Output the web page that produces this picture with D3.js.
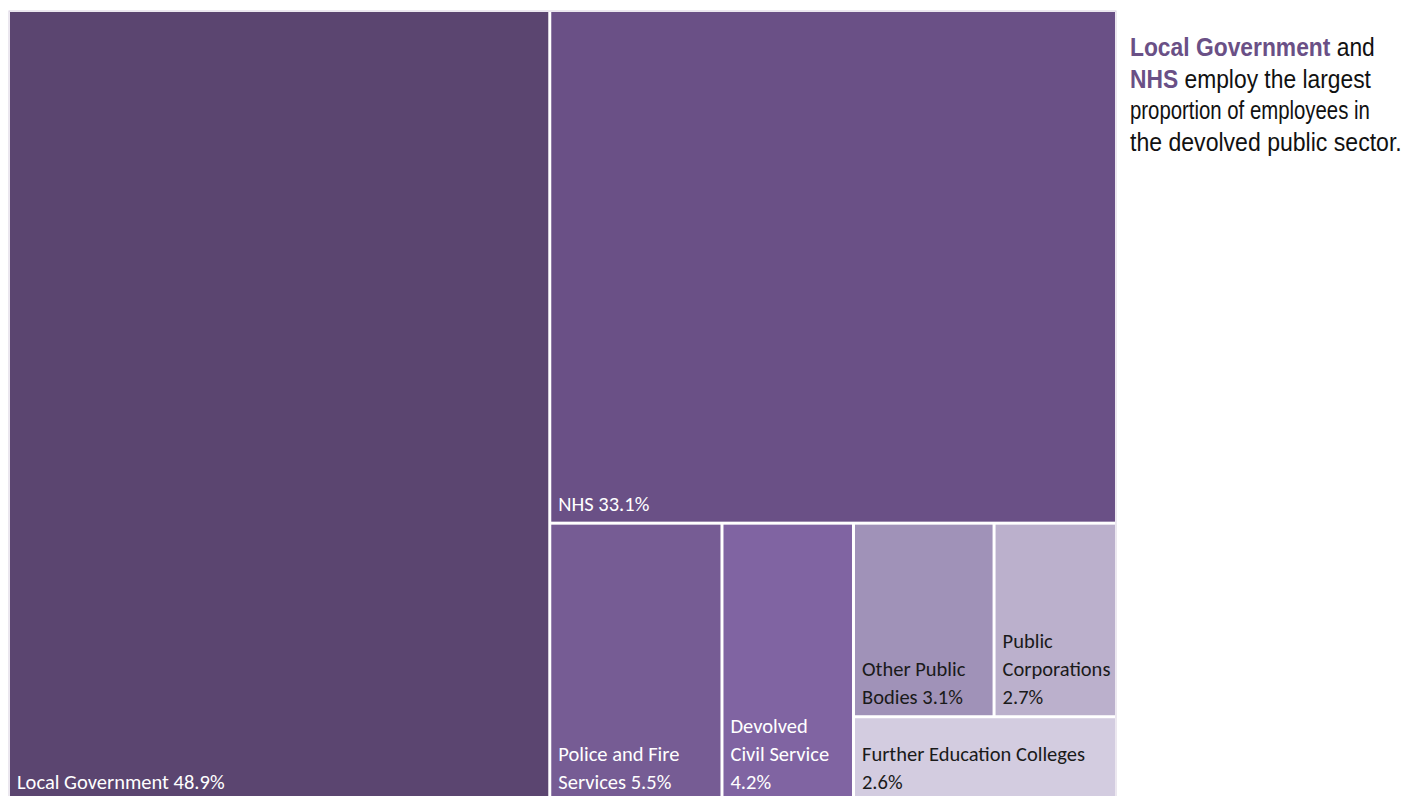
<!DOCTYPE html>
<html><head><meta charset="utf-8">
<script src="https://cdn.jsdelivr.net/npm/d3@7"></script>
<style>
html,body{margin:0;padding:0;background:#fff;overflow:hidden}
svg{display:block}
</style></head>
<body>
<svg id="chart" width="1405" height="796"></svg>
<script>
// Data
const categories = ["Local Government","NHS","Police and Fire Services","Devolved Civil Service","Other Public Bodies","Public Corporations","Further Education Colleges"];
const values = [48.9, 33.1, 5.5, 4.2, 3.1, 2.7, 2.6];
const labelLines = [
  ["Local Government 48.9%"],
  ["NHS 33.1%"],
  ["Police and Fire","Services 5.5%"],
  ["Devolved","Civil Service","4.2%"],
  ["Other Public","Bodies 3.1%"],
  ["Public","Corporations","2.7%"],
  ["Further Education Colleges","2.6%"]
];
const colors = ["#5b4570","#6a5086","#765c94","#8064a2","#a092b8","#bbb0cc","#d3cce0"];
const textColors = ["#ffffff","#ffffff","#ffffff","#ffffff","#1a1a1a","#1a1a1a","#1a1a1a"];

// nesting structure for the layout (indices into categories)
const leaf = i => ({name: categories[i], value: values[i], idx: i});
const tree = {name:"root", children:[
  leaf(0),
  {name:"g1", children:[
    leaf(1),
    {name:"g2", children:[
      leaf(2), leaf(3),
      {name:"g3", children:[
        {name:"g4", children:[leaf(4), leaf(5)]},
        leaf(6)
      ]}
    ]}
  ]}
]};

const svg = d3.select("#chart");
const x0 = 10, y0 = 12, W = 1105, H = 790;

const root = d3.hierarchy(tree).sum(d => d.value || 0);
d3.treemap()
  .tile(d3.treemapSliceDice)
  .size([W, H])
  .paddingInner(3)
  .round(false)(root);

const g = svg.append("g").attr("transform", `translate(${x0},${y0})`);
g.append("rect").attr("x",-1).attr("y",-1).attr("width",W+2).attr("height",H+2)
  .attr("fill","none").attr("stroke","#d8d0e0").attr("stroke-width",1);

const leaves = root.leaves();
const cell = g.selectAll("g.cell").data(leaves).join("g").attr("class","cell");
cell.append("rect")
  .attr("x", d => d.x0).attr("y", d => d.y0)
  .attr("width", d => d.x1 - d.x0).attr("height", d => d.y1 - d.y0)
  .attr("fill", d => colors[d.data.idx]);

const lineH = 28;
cell.each(function(d){
  const lines = labelLines[d.data.idx];
  const clipped = d.y1 > 796 - y0;
  const lastBase = clipped ? (796 - y0 - 7) : d.y1 - 11;
  const t = d3.select(this).append("text")
    .attr("font-family","Carlito, 'Noto Sans', sans-serif")
    .attr("font-size", 20.5)
    .attr("fill", textColors[d.data.idx]);
  lines.forEach((ln, i) => {
    t.append("tspan").attr("x", d.x0 + 7)
      .attr("y", lastBase - (lines.length - 1 - i) * lineH)
      .text(ln);
  });
});

// Annotation
const annLines = [
  [{t:"Local Government", b:true},{t:" and"}],
  [{t:"NHS", b:true},{t:" employ the largest"}],
  [{t:"proportion of employees in"}],
  [{t:"the devolved public sector."}]
];
const annWidths = [245, 241, 240, 272];
const annX = 1130;
annLines.forEach((ln, i) => {
  const y = 56 + i * 31.7;
  const t = svg.append("text")
    .attr("x", annX).attr("y", y)
    .attr("font-family","'Liberation Sans', Arial, sans-serif")
    .attr("font-size", 25.5).attr("fill","#111");
  ln.forEach(s => {
    const ts = t.append("tspan").text(s.t);
    if (s.b) ts.attr("font-weight","bold").attr("fill","#6a5086");
  });
  const w = t.node().getComputedTextLength();
  const k = annWidths[i] / w;
  t.attr("transform", `translate(${annX},0) scale(${k},1) translate(${-annX},0)`);
});
</script>
</body></html>
